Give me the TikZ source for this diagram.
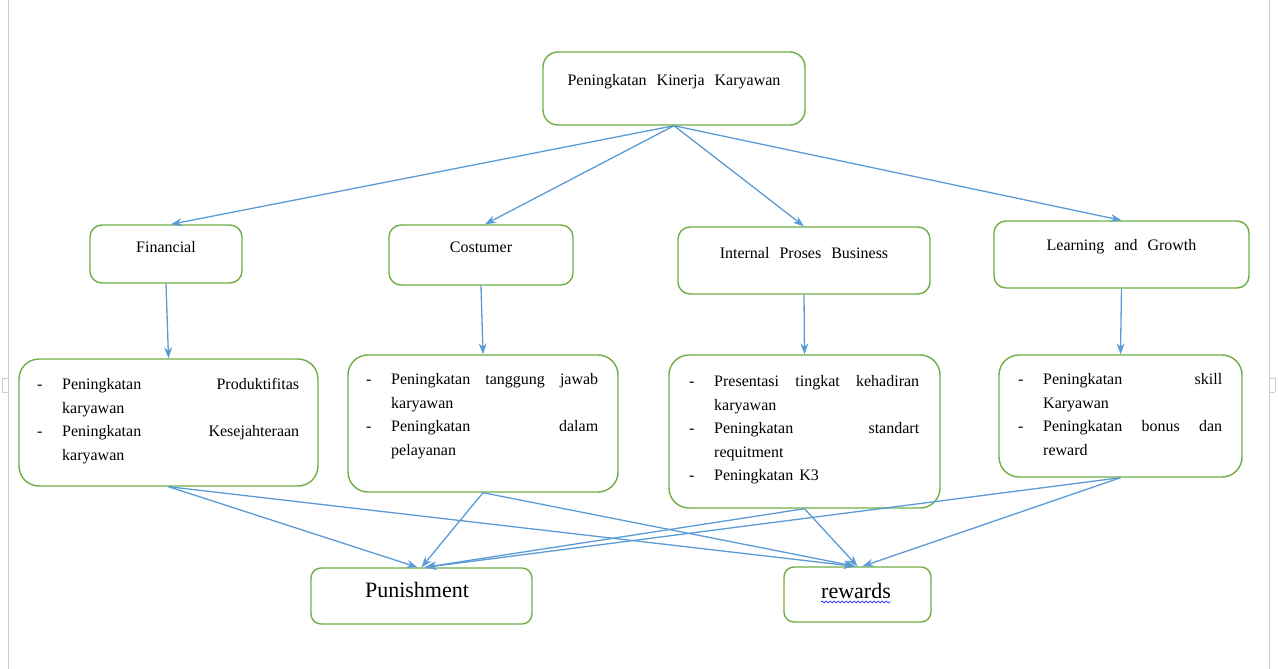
\documentclass[tikz,border=0pt]{standalone}
\usepackage{fontspec}
\setmainfont{Liberation Serif}
\usetikzlibrary{arrows.meta,decorations.pathmorphing}

\definecolor{boxgreen}{RGB}{112,173,71}
\definecolor{arrowblue}{RGB}{91,155,213}
\definecolor{pagegray}{RGB}{205,205,205}

% one dash item with hanging lines
\newcommand{\bitem}[1]{\par\noindent\hangindent=25pt\hangafter=1\makebox[25pt][l]{-}#1\par}

\begin{document}
\begin{tikzpicture}[x=1pt,y=-1pt,
  box/.style={draw=boxgreen,line width=1.4pt,rounded corners=12pt,inner sep=0pt},
  lbl/.style={font={\fontsize{16}{24}\selectfont\spaceskip=10pt},inner sep=0pt},
  blist/.style={font={\fontsize{16}{23.5}\selectfont\spaceskip=4pt plus 100pt\hbadness=10000},
    align=justify,inner sep=0pt,anchor=north west},
  big/.style={font={\fontsize{22}{26}\selectfont},inner sep=0pt},
  link/.style={draw=arrowblue,line width=1.3pt,-{Stealth[length=11pt,width=8pt]}}]
  \useasboundingbox (0,0) rectangle (1278,669);

  % page edges
  \draw[pagegray,line width=1pt] (8,0) -- (8,669);
  \draw[pagegray,line width=1pt] (2,378) -- (8,378) (2,392) -- (8,392) (2,378) -- (2,392);
  \draw[pagegray,line width=1pt] (1269,0) -- (1269,669);
  \draw[pagegray,line width=1pt] (1269,378) -- (1275,378) (1269,392) -- (1275,392) (1275,378) -- (1275,392);

  % top
  \node[box,rounded corners=15pt,minimum width=262pt,minimum height=73pt] (kinerja) at (674,88.5) {};
  \node[lbl] (kinerjaT) at (674,82) {Peningkatan Kinerja Karyawan};

  % perspectives
  \node[box,minimum width=152pt,minimum height=58pt] (fin) at (166,254) {};
  \node[lbl] (finT) at (166,247) {Financial};
  \node[box,minimum width=184pt,minimum height=60pt] (cust) at (481,255) {};
  \node[lbl] (custT) at (481,247) {Costumer};
  \node[box,minimum width=252pt,minimum height=67pt] (ipb) at (804,260.5) {};
  \node[lbl] (ipbT) at (804,253) {Internal Proses Business};
  \node[box,minimum width=255pt,minimum height=67pt] (lag) at (1121.5,254.5) {};
  \node[lbl] (lagT) at (1121.5,247) {Learning and Growth};

  % indicator boxes
  \node[box,rounded corners=20pt,minimum width=299pt,minimum height=127pt] (bfin) at (168.5,422.5) {};
  \node[blist,text width=262pt] (bfinT) at (37,366) {%
    \bitem{Peningkatan Produktifitas\linebreak karyawan}%
    \bitem{Peningkatan Kesejahteraan\linebreak karyawan}};
  \node[box,rounded corners=20pt,minimum width=270pt,minimum height=137pt] (bcust) at (483,423.5) {};
  \node[blist,text width=232pt] (bcustT) at (366,361) {%
    \bitem{Peningkatan tanggung jawab\linebreak karyawan}%
    \bitem{Peningkatan dalam\linebreak pelayanan}};
  \node[box,rounded corners=20pt,minimum width=271pt,minimum height=153pt] (bipb) at (804.5,431.5) {};
  \node[blist,text width=230pt] (bipbT) at (689,363) {%
    \bitem{Presentasi tingkat kehadiran\linebreak karyawan}%
    \bitem{Peningkatan standart\linebreak requitment}%
    \bitem{Peningkatan\hspace{6pt}K3}};
  \node[box,rounded corners=20pt,minimum width=243pt,minimum height=122pt] (blag) at (1120.5,416) {};
  \node[blist,text width=204pt] (blagT) at (1018,361) {%
    \bitem{Peningkatan skill\linebreak Karyawan}%
    \bitem{Peningkatan bonus dan\linebreak reward}};

  % outcomes
  \node[box,rounded corners=10pt,minimum width=221pt,minimum height=56pt] (pun) at (421.5,596) {};
  \node[big] (punT) at (417,590) {Punishment};
  \node[box,rounded corners=10pt,minimum width=147pt,minimum height=55pt] (rew) at (857.5,594.5) {};
  \node[big] (rewT) at (856,591) {rewards};
  \draw[blue,line width=0.6pt,decorate,decoration={snake,amplitude=1pt,segment length=4pt}]
    ([yshift=-3pt]rewT.south west) -- ([yshift=-3pt]rewT.south east);

  % arrows from top
  \draw[link] (kinerja.south) -- ([xshift=5pt]fin.north);
  \draw[link] (kinerja.south) -- ([xshift=4pt]cust.north);
  \draw[link] (kinerja.south) -- (ipb.north);
  \draw[link] (kinerja.south) -- (lag.north);

  % down to indicators
  \draw[link] (fin.south) -- (bfin.north);
  \draw[link] (cust.south) -- (bcust.north);
  \draw[link] (ipb.south) -- (bipb.north);
  \draw[link] (lag.south) -- (blag.north);

  % indicators to outcomes
  \draw[link] (bfin.south) -- ([xshift=-4pt]pun.north);
  \draw[link] (bfin.south) -- ([xshift=-3pt]rew.north);
  \draw[link] (bcust.south) -- (pun.north);
  \draw[link] (bcust.south) -- ([xshift=-2pt]rew.north);
  \draw[link] (bipb.south) -- ([xshift=3pt]pun.north);
  \draw[link] (bipb.south) -- (rew.north);
  \draw[link] (blag.south) -- ([xshift=4pt]pun.north);
  \draw[link] (blag.south) -- ([xshift=5pt]rew.north);
\end{tikzpicture}
\end{document}
